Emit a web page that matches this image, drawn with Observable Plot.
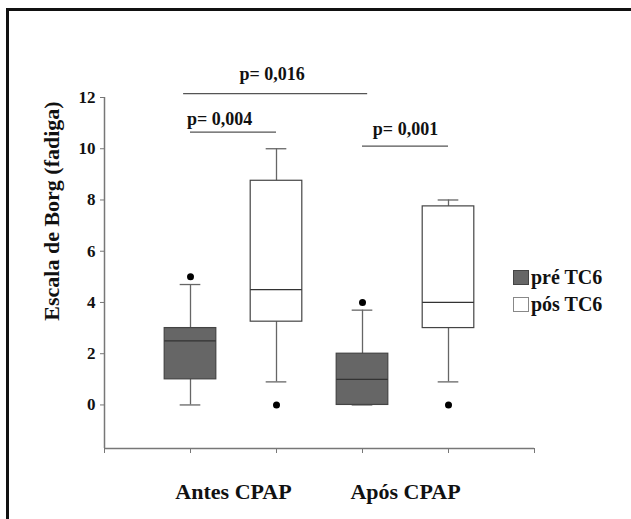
<!DOCTYPE html>
<html>
<head>
<meta charset="utf-8">
<script src="https://cdn.jsdelivr.net/npm/d3@7"></script>
<script src="https://cdn.jsdelivr.net/npm/@observablehq/plot@0.6"></script>
<style>
  html, body { margin: 0; padding: 0; background: #fff; }
  #wrap { position: relative; width: 631px; height: 519px; overflow: hidden; background: #fff;
          font-family: "Liberation Serif", "Times New Roman", Times, serif; }
  #frame { position: absolute; left: 6px; top: 8px; right: -20px; bottom: -20px;
           border-top: 3px solid #111; border-left: 3px solid #111; pointer-events: none; }
  #chart { position: absolute; left: 0; top: 0; }
  #legend { position: absolute; left: 513px; top: 264px;
            font-weight: bold; font-size: 20px; color: #111; line-height: 27px; }
  #legend .row { display: flex; align-items: center; white-space: nowrap; }
  #legend .sw { width: 16px; height: 15px; box-sizing: border-box; margin-right: 2px; }
  #ylabel { position: absolute; left: 52px; top: 211px; transform: translate(-50%, -50%) rotate(-90deg);
            white-space: nowrap; font-weight: bold; font-size: 22px; color: #111; }
</style>
</head>
<body>
<div id="wrap">
  <div id="chart"></div>
  <div id="legend"></div>
  <div id="ylabel"></div>
  <div id="frame"></div>
</div>
<script>
// ---- data ----
const groups = ["Antes CPAP", "Antes CPAP", "Após CPAP", "Após CPAP"];
const series = ["pré TC6", "pós TC6", "pré TC6", "pós TC6"];
const whiskerLow = [0, 0.9, 0, 0.9];
const q1 = [1, 3.25, 0, 3];
const median = [2.5, 4.5, 1, 4];
const q3 = [3, 8.75, 2, 7.75];
const whiskerHigh = [4.7, 10, 3.7, 8];
const outliers = [[5], [0], [4], [0]];

const yTicks = [0, 2, 4, 6, 8, 10, 12];
const xTicks = [0, 1, 2, 3, 4, 5];
const yMin = -1.7, yMax = 12;
const yLabel = "Escala de Borg (fadiga)";

const pLabels = ["p= 0,016", "p= 0,004", "p= 0,001"];
const pFrom = [0.92, 1, 3];
const pTo = [3.06, 2, 4];
const pLineY = [12.15, 10.65, 10.1];
const pTextX = [1.95, 1.34, 3.5];
const pTextY = [12.68, 10.93, 10.54];

const seriesNames = ["pré TC6", "pós TC6"];
const seriesFill = {"pré TC6": "#666666", "pós TC6": "#ffffff"};

// ---- derived tables ----
const boxes = groups.map((g, i) => ({
  group: g, series: series[i], pos: i + 1,
  lo: whiskerLow[i], q1: q1[i], med: median[i], q3: q3[i], hi: whiskerHigh[i]
}));
const outlierPts = outliers.flatMap((arr, i) => arr.map(v => ({pos: i + 1, value: v})));
const groupLabels = Array.from(new Set(groups)).map(g => {
  const ps = boxes.filter(b => b.group === g).map(b => b.pos);
  return {group: g, pos: d3.mean(ps)};
});
const brackets = pLabels.map((t, i) => ({label: t, x1: pFrom[i], x2: pTo[i], y: pLineY[i], tx: pTextX[i], ty: pTextY[i]}));

const hw = 0.3, cw = 0.12;
const font = "'Liberation Serif', 'Times New Roman', Times, serif";

const chart = Plot.plot({
  width: 631,
  height: 519,
  marginLeft: 104,
  marginRight: 97,
  marginTop: 97,
  marginBottom: 71,
  style: {fontFamily: font, fontWeight: "bold", background: "transparent", color: "#111", overflow: "visible"},
  x: {domain: [0, 5]},
  y: {domain: [yMin, yMax]},
  marks: [
    // axes
    Plot.ruleX([0], {y1: yMin, y2: yMax, stroke: "#777", strokeWidth: 1.5}),
    Plot.ruleY([yMin], {x1: 0, x2: 5, stroke: "#777", strokeWidth: 1.5}),
    Plot.axisY({ticks: yTicks, tickSize: 4, tickPadding: 5, fontSize: 17, stroke: "#777", label: null, fill: "#111"}),
    Plot.axisX({ticks: xTicks, tickSize: 5, tickFormat: () => "", stroke: "#777", label: null}),
    // whiskers
    Plot.ruleX(boxes, {x: "pos", y1: "q3", y2: "hi", stroke: "#666", strokeWidth: 1.3}),
    Plot.ruleX(boxes, {x: "pos", y1: "lo", y2: "q1", stroke: "#666", strokeWidth: 1.3}),
    Plot.ruleY(boxes, {y: "hi", x1: d => d.pos - cw, x2: d => d.pos + cw, stroke: "#666", strokeWidth: 1.3}),
    Plot.ruleY(boxes, {y: "lo", x1: d => d.pos - cw, x2: d => d.pos + cw, stroke: "#666", strokeWidth: 1.3}),
    // boxes
    Plot.rect(boxes, {x1: d => d.pos - hw, x2: d => d.pos + hw, y1: "q1", y2: "q3",
      fill: d => seriesFill[d.series], stroke: "#444", strokeWidth: 1.2}),
    Plot.ruleY(boxes, {y: "med", x1: d => d.pos - hw, x2: d => d.pos + hw, stroke: "#333", strokeWidth: 1.3}),
    // outliers
    Plot.dot(outlierPts, {x: "pos", y: "value", r: 3.5, fill: "#000", stroke: "none"}),
    // significance brackets
    Plot.ruleY(brackets, {y: "y", x1: "x1", x2: "x2", stroke: "#555", strokeWidth: 1.3}),
    Plot.text(brackets, {x: "tx", y: "ty", text: "label", fontSize: 18, lineAnchor: "bottom", fill: "#111"}),
    // group labels
    Plot.text(groupLabels, {x: "pos", frameAnchor: "bottom", dy: 50, text: "group", fontSize: 22, lineAnchor: "bottom", fill: "#111"})
  ]
});
document.getElementById("chart").appendChild(chart);

document.getElementById("ylabel").textContent = yLabel;

// legend
const legend = document.getElementById("legend");
seriesNames.forEach(s => {
  const row = document.createElement("div");
  row.className = "row";
  const sw = document.createElement("span");
  sw.className = "sw";
  sw.style.background = seriesFill[s];
  sw.style.border = s === "pré TC6" ? "1px solid #444" : "1px solid #888";
  const t = document.createElement("span");
  t.textContent = s;
  row.appendChild(sw);
  row.appendChild(t);
  legend.appendChild(row);
});
</script>
</body>
</html>
